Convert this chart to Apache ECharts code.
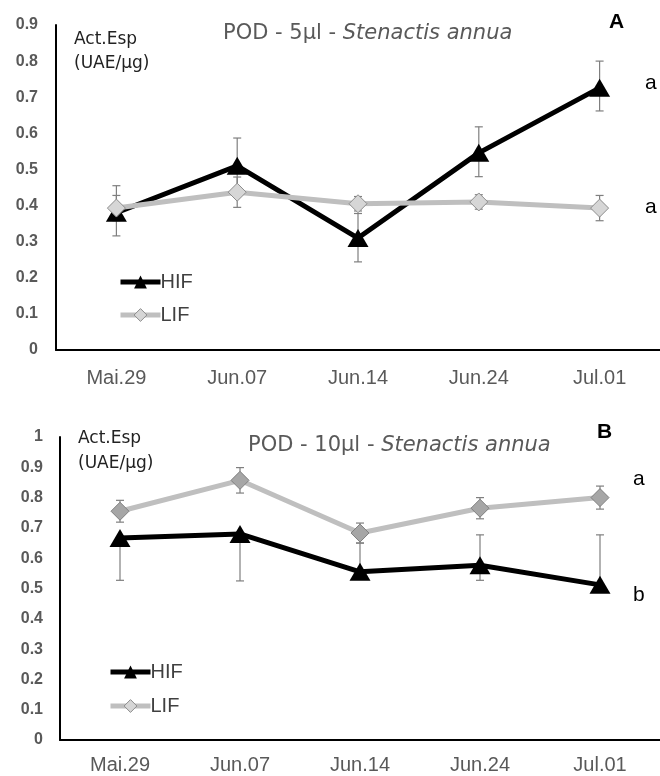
<!DOCTYPE html>
<html>
<head>
<meta charset="utf-8">
<script src="https://cdn.jsdelivr.net/npm/echarts@6/dist/echarts.min.js"></script>
<style>html,body{margin:0;padding:0;background:#fff;}#c{width:660px;height:776px;}</style>
</head>
<body>
<div id="c"></div>
<script>
const categories = ['Mai.29', 'Jun.07', 'Jun.14', 'Jun.24', 'Jul.01'];
const yTicksA = [0, 0.1, 0.2, 0.3, 0.4, 0.5, 0.6, 0.7, 0.8, 0.9];
const yTicksB = [0, 0.1, 0.2, 0.3, 0.4, 0.5, 0.6, 0.7, 0.8, 0.9, 1];
// Panel A (POD - 5µl)
const hifA = [0.38, 0.51, 0.31, 0.546, 0.726];
const hifAErrUp = [0.075, 0.077, 0.068, 0.072, 0.074];
const hifAErrDown = [0.064, 0.077, 0.066, 0.066, 0.064];
const lifA = [0.393, 0.437, 0.405, 0.41, 0.393];
const lifAErrUp = [0.035, 0.042, 0.02, 0.02, 0.035];
const lifAErrDown = [0.035, 0.042, 0.02, 0.02, 0.035];
// Panel B (POD - 10µl)
const hifB = [0.667, 0.68, 0.555, 0.577, 0.512];
const hifBErrUp = [0, 0, 0.095, 0.1, 0.165];
const hifBErrDown = [0.14, 0.155, 0, 0.05, 0];
const lifB = [0.755, 0.857, 0.683, 0.765, 0.80];
const lifBErrUp = [0.036, 0.042, 0.033, 0.035, 0.038];
const lifBErrDown = [0.036, 0.042, 0.033, 0.035, 0.038];

const chart = echarts.init(document.getElementById('c'));

function errData(vals, up, down) {
  return vals.map((v, i) => [i, v - down[i], v + up[i], v]);
}
function errSeries(vals, up, down, idx) {
  return {
    type: 'custom',
    xAxisIndex: idx, yAxisIndex: idx,
    z: 1,
    silent: true,
    data: errData(vals, up, down),
    renderItem: function (params, api) {
      const lo = api.coord([api.value(0), api.value(1)]);
      const hi = api.coord([api.value(0), api.value(2)]);
      const mid = api.coord([api.value(0), api.value(3)]);
      const x = lo[0], w = 4;
      const st = { stroke: '#7f7f7f', lineWidth: 1.2 };
      const ch = [{ type: 'line', shape: { x1: x, y1: lo[1], x2: x, y2: hi[1] }, style: st }];
      if (Math.abs(lo[1] - mid[1]) > 0.5) ch.push({ type: 'line', shape: { x1: x - w, y1: lo[1], x2: x + w, y2: lo[1] }, style: st });
      if (Math.abs(hi[1] - mid[1]) > 0.5) ch.push({ type: 'line', shape: { x1: x - w, y1: hi[1], x2: x + w, y2: hi[1] }, style: st });
      return { type: 'group', children: ch };
    }
  };
}
function hifSeries(vals, idx) {
  return {
    name: 'HIF', type: 'line', xAxisIndex: idx, yAxisIndex: idx, data: vals,
    symbol: 'triangle', symbolSize: [21, 18], z: 3,
    lineStyle: { color: '#000', width: 5 },
    itemStyle: { color: '#000' }, color: '#000'
  };
}
function lifSeries(vals, idx, fill, border) {
  return {
    name: 'LIF', type: 'line', xAxisIndex: idx, yAxisIndex: idx, data: vals,
    symbol: 'diamond', symbolSize: 18, z: idx === 0 ? 4 : 2,
    lineStyle: { color: '#bfbfbf', width: 5 },
    itemStyle: { color: fill, borderColor: border, borderWidth: 1 }, color: '#bfbfbf'
  };
}
const axisLine = { show: true, lineStyle: { color: '#000', width: 2 } };
const yLabel = {
  color: '#595959', fontWeight: 'bold', fontSize: 16, fontFamily: 'Liberation Sans, Arial',
  formatter: v => (v === 0 ? '0' : (v === 1 ? '1' : v.toFixed(1)))
};
const xLabel = { color: '#595959', fontSize: 20, fontFamily: 'Liberation Sans, Arial' };

function legendOf(left, top, gap, lifFill) {
  return {
    left: left, top: top, orient: 'vertical', itemWidth: 40, itemHeight: 16, itemGap: gap,
    textStyle: { color: '#404040', fontSize: 20, fontFamily: 'Liberation Sans, Arial', padding: [0, 0, 0, -5] },
    selectedMode: false,
    data: [
      { name: 'HIF', lineStyle: { width: 5, color: '#000' }, itemStyle: { color: '#000' } },
      { name: 'LIF', lineStyle: { width: 5, color: '#bfbfbf' }, itemStyle: { color: lifFill, borderColor: '#8c8c8c', borderWidth: 1 } }
    ]
  };
}

const titleFont = 'DejaVu Sans, sans-serif';
function titleText(x, y, a) {
  return {
    type: 'text', left: x, top: y,
    style: {
      text: '{n|POD - ' + a + ' - }{i|Stenactis annua}',
      rich: {
        n: { fontSize: 21, fill: '#595959', fontFamily: titleFont },
        i: { fontSize: 21, fill: '#595959', fontFamily: titleFont, fontStyle: 'italic' }
      }
    }
  };
}
function plain(x, y, t, size, weight, color, font) {
  return { type: 'text', left: x, top: y, style: { text: t, fontSize: size, fontWeight: weight || 'normal', fill: color || '#000', fontFamily: font || 'Liberation Sans, Arial' } };
}

chart.setOption({
  animation: false,
  grid: [
    { left: 56, top: 25, width: 604, height: 325 },
    { left: 60, top: 437, width: 600, height: 303 }
  ],
  xAxis: [
    { type: 'category', gridIndex: 0, data: categories, axisLine, axisTick: { show: false }, axisLabel: Object.assign({ margin: 18 }, xLabel) },
    { type: 'category', gridIndex: 1, data: categories, axisLine, axisTick: { show: false }, axisLabel: Object.assign({ margin: 15 }, xLabel) }
  ],
  yAxis: [
    { type: 'value', gridIndex: 0, min: yTicksA[0], max: yTicksA[yTicksA.length - 1], interval: 0.1, axisLine, axisTick: { show: false }, splitLine: { show: false }, axisLabel: Object.assign({ margin: 18 }, yLabel) },
    { type: 'value', gridIndex: 1, min: yTicksB[0], max: yTicksB[yTicksB.length - 1], interval: 0.1, axisLine, axisTick: { show: false }, splitLine: { show: false }, axisLabel: Object.assign({ margin: 17 }, yLabel) }
  ],
  legend: [
    legendOf(113, 267, 13, '#d6d6d6'),
    legendOf(103, 657, 14, '#d6d6d6')
  ],
  series: [
    errSeries(hifA, hifAErrUp, hifAErrDown, 0), errSeries(lifA, lifAErrUp, lifAErrDown, 0),
    hifSeries(hifA, 0), lifSeries(lifA, 0, '#d6d6d6', '#8c8c8c'),
    errSeries(hifB, hifBErrUp, hifBErrDown, 1), errSeries(lifB, lifBErrUp, lifBErrDown, 1),
    hifSeries(hifB, 1), lifSeries(lifB, 1, '#a6a6a6', '#7f7f7f')
  ],
  graphic: [
    titleText(223, 23, '5µl'),
    titleText(248, 435, '10µl'),
    plain(74, 31, 'Act.Esp', 17, 'normal', '#222', titleFont),
    plain(74, 55, '(UAE/µg)', 17, 'normal', '#222', titleFont),
    plain(78, 430, 'Act.Esp', 17, 'normal', '#222', titleFont),
    plain(78, 455, '(UAE/µg)', 17, 'normal', '#222', titleFont),
    plain(609, 12, 'A', 21, 'bold', '#000'),
    plain(597, 422, 'B', 21, 'bold', '#000'),
    plain(645, 73, 'a', 21, 'normal', '#000'),
    plain(645, 197, 'a', 21, 'normal', '#000'),
    plain(633, 469, 'a', 21, 'normal', '#000'),
    plain(633, 585, 'b', 21, 'normal', '#000')
  ]
});
</script>
</body>
</html>
